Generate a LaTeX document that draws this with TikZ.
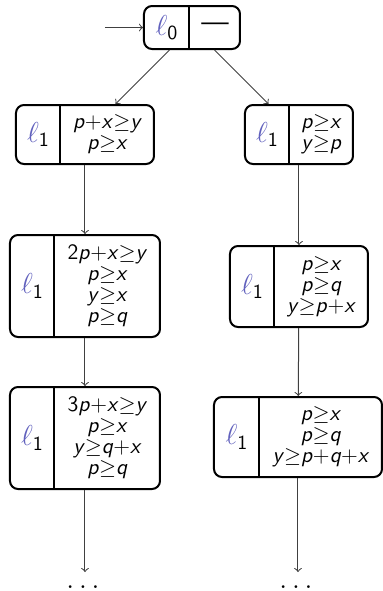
\documentclass[tikz,border=0pt]{standalone}
\usepackage{amsmath}
\usepackage{xcolor}
\definecolor{lcol}{rgb}{0.38,0.38,0.74}
\newcommand\V[1]{\textit{#1}}
\newcommand\G{$\geq$}
\newcommand\Lab[1]{${\color{lcol}\ell}_{\mathsf{#1}}$}
\begin{document}
\begin{tikzpicture}[x=0.5pt,y=-0.5pt,
  box/.style={draw,line width=1pt,rounded corners=4pt,inner sep=0pt},
  divline/.style={line width=0.8pt},
  lab/.style={font=\fontsize{14}{16}\selectfont\sffamily,inner sep=0pt},
  cons/.style={font=\fontsize{11}{10.5}\selectfont\sffamily,align=center,inner sep=0pt},
  dotsn/.style={font=\fontsize{14.5}{16}\selectfont,inner sep=0pt,anchor=base},
  edge/.style={->,black!75,line width=0.5pt}]
\useasboundingbox (0,0) rectangle (383,591);
% boxes
\node[box,minimum width=48pt,minimum height=21.5pt] (root) at (192,27.5) {};
\node[box,minimum width=69pt,minimum height=29.5pt] (L1) at (85,134.5) {};
\node[box,minimum width=54pt,minimum height=29.5pt] (R1) at (299,134.5) {};
\node[box,minimum width=75pt,minimum height=51pt] (L2) at (85,286) {};
\node[box,minimum width=69pt,minimum height=40.5pt] (R2) at (299,286.5) {};
\node[box,minimum width=75pt,minimum height=51pt] (L3) at (85,438) {};
\node[box,minimum width=84pt,minimum height=40pt] (R3) at (298,437) {};
% dividers
\draw[divline] ([xshift=23pt]root.north west) -- ([xshift=23pt]root.south west);
\draw[divline] ([xshift=22.5pt]L1.north west) -- ([xshift=22.5pt]L1.south west);
\draw[divline] ([xshift=22.5pt]R1.north west) -- ([xshift=22.5pt]R1.south west);
\draw[divline] ([xshift=22.5pt]L2.north west) -- ([xshift=22.5pt]L2.south west);
\draw[divline] ([xshift=22.5pt]R2.north west) -- ([xshift=22.5pt]R2.south west);
\draw[divline] ([xshift=22.5pt]L3.north west) -- ([xshift=22.5pt]L3.south west);
\draw[divline] ([xshift=23pt]R3.north west) -- ([xshift=23pt]R3.south west);
% labels
\node[lab] (rootl) at (167,27.5) {\Lab{0}};
\node[lab] (rootd) at (215,27.5) {\textemdash};
\node[lab] (L1l) at (38.5,134.5) {\Lab{1}};
\node[lab] (R1l) at (267.5,134.5) {\Lab{1}};
\node[lab] (L2l) at (32.5,286) {\Lab{1}};
\node[lab] (R2l) at (252.5,286.5) {\Lab{1}};
\node[lab] (L3l) at (32.5,438) {\Lab{1}};
\node[lab] (R3l) at (237,437) {\Lab{1}};
% constraints
\node[cons] (L1c) at (107.5,134.5) {\V{p}+\V{x}\G\V{y}\\\V{p}\G\V{x}};
\node[cons] (R1c) at (321.5,134.5) {\V{p}\G\V{x}\\\V{y}\G\V{p}};
\node[cons] (L2c) at (107.5,286) {2\V{p}+\V{x}\G\V{y}\\\V{p}\G\V{x}\\\V{y}\G\V{x}\\\V{p}\G\V{q}};
\node[cons] (R2c) at (321.5,286.5) {\V{p}\G\V{x}\\\V{p}\G\V{q}\\\V{y}\G\V{p}+\V{x}};
\node[cons] (L3c) at (107.5,438) {3\V{p}+\V{x}\G\V{y}\\\V{p}\G\V{x}\\\V{y}\G\V{q}+\V{x}\\\V{p}\G\V{q}};
\node[cons] (R3c) at (321,437) {\V{p}\G\V{x}\\\V{p}\G\V{q}\\\V{y}\G\V{p}+\V{q}+\V{x}};
% dots
\node[dotsn] (dL) at (83,588) {$\ldots$};
\node[dotsn] (dR) at (296,588) {$\ldots$};
\coordinate (start) at (105,27.5);
\coordinate (eL) at (85,572);
\coordinate (eR) at (298,572);
% edges
\draw[edge] (start) -- (root);
\draw[edge] (root) -- (L1);
\draw[edge] (root) -- (R1);
\draw[edge] (L1) -- (L2);
\draw[edge] (L2) -- (L3);
\draw[edge] (L3) -- (eL);
\draw[edge] (R1) -- (R2);
\draw[edge] (R2) -- (R3);
\draw[edge] (R3) -- (eR);
\end{tikzpicture}
\end{document}
